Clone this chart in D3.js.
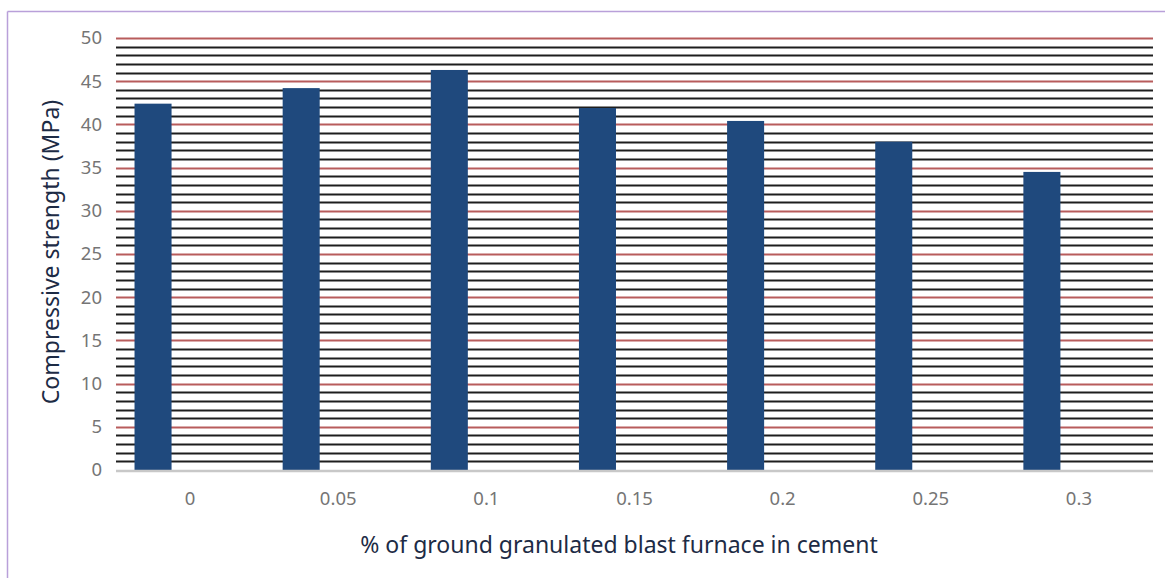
<!DOCTYPE html>
<html>
<head>
<meta charset="utf-8">
<script src="https://cdn.jsdelivr.net/npm/d3@7/dist/d3.min.js"></script>
<style>
  html, body { margin: 0; padding: 0; background: #fff; }
  svg { display: block; }
</style>
</head>
<body>
<svg id="chart" width="1165" height="578"></svg>
<script>
const categories = ["0", "0.05", "0.1", "0.15", "0.2", "0.25", "0.3"];
const strength = [42.4, 44.2, 46.3, 41.9, 40.4, 38.0, 34.5];
const yTicks = [0, 5, 10, 15, 20, 25, 30, 35, 40, 45, 50];
const yTitle = "Compressive strength (MPa)";
const xTitle = "% of ground granulated blast furnace in cement";

const svg = d3.select("#chart");
const W = 1165, H = 578;
const m = { left: 116, right: 12, top: 38, bottom: 108 };

// frame border (top and left)
svg.append("line").attr("x1", 7.5).attr("x2", W).attr("y1", 11.5).attr("y2", 11.5)
  .attr("stroke", "#b9a0d9").attr("stroke-width", 1.5);
svg.append("line").attr("x1", 7.5).attr("x2", 7.5).attr("y1", 11.5).attr("y2", H)
  .attr("stroke", "#b9a0d9").attr("stroke-width", 1.5);

const x = d3.scaleBand().domain(categories).range([m.left, W - m.right]).padding(0);
const y = d3.scaleLinear().domain([0, 50]).range([H - m.bottom, m.top]);

// minor gridlines (every 1)
const minor = d3.range(1, 50).filter(v => v % 5 !== 0);
svg.append("g").selectAll("line").data(minor).join("line")
  .attr("x1", m.left).attr("x2", W - m.right)
  .attr("y1", d => Math.round(y(d)) + 0.5).attr("y2", d => Math.round(y(d)) + 0.5)
  .attr("stroke", "#1e1e1e").attr("stroke-width", 1.8);

// major gridlines (every 5)
svg.append("g").selectAll("line").data(yTicks.filter(v => v > 0)).join("line")
  .attr("x1", m.left).attr("x2", W - m.right)
  .attr("y1", d => Math.round(y(d)) + 0.5).attr("y2", d => Math.round(y(d)) + 0.5)
  .attr("stroke", "#b85c5c").attr("stroke-width", 1.8);

// bars: first of three slots in each band (Excel-like clustered layout)
const slot = x.bandwidth() / 4;
svg.append("g").selectAll("rect").data(strength).join("rect")
  .attr("x", (d, i) => x(categories[i]) + slot * 0.5)
  .attr("width", slot)
  .attr("y", d => y(d))
  .attr("height", d => y(0) - y(d))
  .attr("fill", "#1f497d");

// baseline
svg.append("line").attr("x1", m.left).attr("x2", W - m.right)
  .attr("y1", y(0) + 1).attr("y2", y(0) + 1)
  .attr("stroke", "#c8c8c8").attr("stroke-width", 2.5);

const font = "'Noto Sans', 'DejaVu Sans', sans-serif";

// y axis labels
const yAxis = d3.axisLeft(y).tickValues(yTicks).tickSize(0).tickPadding(14);
const gy = svg.append("g").attr("transform", `translate(${m.left},0)`).call(yAxis);
gy.select(".domain").remove();
gy.selectAll("text").attr("fill", "#757575").style("font-family", font).style("font-size", "18.5px");

// x axis labels
const xAxis = d3.axisBottom(x).tickSize(0).tickPadding(22);
const gx = svg.append("g").attr("transform", `translate(0,${y(0)})`).call(xAxis);
gx.select(".domain").remove();
gx.selectAll("text").attr("fill", "#757575").style("font-family", font).style("font-size", "18.5px");

// titles
svg.append("text").attr("x", 619).attr("y", 553)
  .attr("text-anchor", "middle").attr("fill", "#1d2b45")
  .style("font-family", font).style("font-size", "23px").text(xTitle);

svg.append("text").attr("transform", `translate(59,252) rotate(-90)`)
  .attr("text-anchor", "middle").attr("fill", "#1d2b45")
  .style("font-family", font).style("font-size", "23px").text(yTitle);
</script>
</body>
</html>
